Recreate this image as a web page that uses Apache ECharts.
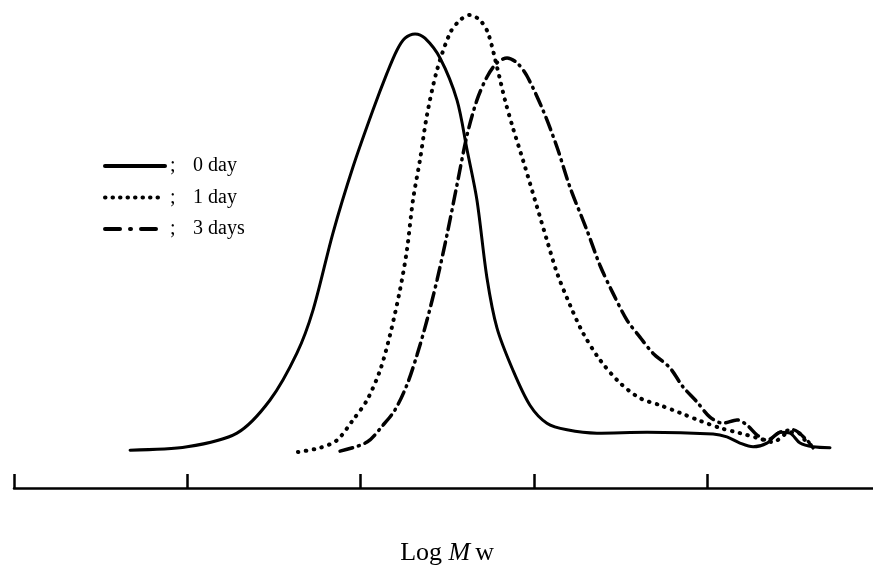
<!DOCTYPE html>
<html>
<head>
<meta charset="utf-8">
<script src="https://cdn.jsdelivr.net/npm/echarts@6/dist/echarts.min.js"></script>
<style>
  html, body { margin: 0; padding: 0; background: #fff; }
  #chart { width: 873px; height: 571px; }
</style>
</head>
<body>
<div id="chart"></div>
<script>
// Log Mw positions (ticks unlabelled) and relative intensity
const day0X = [2.670, 2.999, 3.287, 3.478, 3.633, 3.726, 3.841, 3.957, 4.072, 4.153, 4.211, 4.257, 4.315, 4.372, 4.459, 4.557, 4.615, 4.672, 4.730, 4.788, 4.880, 4.978, 5.076, 5.192, 5.365, 5.654, 6.035, 6.115, 6.190, 6.266, 6.346, 6.421, 6.479, 6.537, 6.612, 6.710];
const day0Y = [8.0, 8.7, 11.6, 18.6, 28.5, 37.6, 53.9, 67.9, 79.9, 87.7, 92.6, 95.1, 96.0, 95.1, 90.9, 82.0, 71.5, 60.9, 44.4, 33.8, 24.9, 17.5, 13.7, 12.3, 11.6, 11.8, 11.4, 10.8, 9.5, 8.7, 9.5, 11.8, 11.6, 9.5, 8.7, 8.5];

const day1X = [3.639, 3.766, 3.864, 3.957, 4.038, 4.113, 4.170, 4.228, 4.268, 4.303, 4.343, 4.384, 4.442, 4.517, 4.574, 4.632, 4.690, 4.736, 4.788, 4.834, 4.880, 4.938, 5.019, 5.076, 5.134, 5.209, 5.284, 5.382, 5.498, 5.613, 5.729, 5.844, 5.960, 6.075, 6.190, 6.289, 6.381, 6.462, 6.520, 6.566, 6.612];
const day1Y = [7.6, 8.5, 10.1, 14.4, 18.6, 24.9, 32.3, 41.9, 50.3, 60.9, 69.3, 78.9, 88.4, 96.2, 98.9, 100, 98.9, 96.2, 89.0, 82.0, 76.1, 69.3, 59.4, 52.4, 45.5, 38.7, 32.8, 27.1, 22.2, 19.0, 17.5, 15.9, 14.2, 12.7, 11.6, 10.6, 9.7, 11.6, 11.8, 10.1, 8.7];

const day3X = [3.882, 4.038, 4.130, 4.199, 4.268, 4.326, 4.384, 4.442, 4.499, 4.557, 4.615, 4.672, 4.730, 4.788, 4.846, 4.903, 4.961, 5.053, 5.134, 5.209, 5.307, 5.382, 5.457, 5.538, 5.613, 5.688, 5.786, 5.861, 5.942, 6.017, 6.092, 6.173, 6.231, 6.289, 6.346, 6.421, 6.496, 6.577, 6.612];
const day3Y = [7.8, 9.7, 13.3, 16.5, 21.8, 28.1, 35.5, 44.0, 53.5, 64.1, 74.6, 82.0, 86.9, 89.9, 90.9, 89.9, 87.1, 79.9, 72.1, 63.6, 54.5, 47.1, 41.2, 35.5, 31.9, 28.5, 25.4, 21.4, 18.2, 15.0, 13.7, 14.4, 13.3, 11.2, 10.1, 11.8, 12.3, 10.1, 8.5];

const seriesNames = ["0 day", "1 day", "3 days"];
const dashTypes = ["solid", [0.5, 7.5], [13, 6, 1, 6]];
const legendDash = ["solid", [0.5, 7], [15, 10, 1, 10]];

const zip = (xs, ys) => xs.map((x, i) => [x, ys[i]]);
const font = "'Liberation Serif', 'Times New Roman', serif";

const chart = echarts.init(document.getElementById("chart"));

function lineSeries(i, xs, ys, width) {
  return {
    name: seriesNames[i],
    type: "line",
    data: zip(xs, ys),
    symbol: "none",
    smooth: 0.3,
    lineStyle: { color: "#000", width, type: dashTypes[i], cap: "round" }
  };
}

chart.setOption({
  backgroundColor: "#fff",
  animation: false,
  // the axis runs off the right edge, so no end tick shows
  grid: { left: 14, width: 866.25, top: 15, bottom: 83, outerBoundsMode: "none" },
  legend: {
    orient: "vertical",
    left: 98,
    top: 151,
    itemWidth: 60,
    itemHeight: 20,
    itemGap: 11.5,
    data: seriesNames.map((name, i) => ({
      name,
      itemStyle: { opacity: 0 },
      lineStyle: { color: "#000", width: 4, type: legendDash[i], cap: "round" }
    })),
    formatter: name => "{s|;}" + name,
    textStyle: {
      fontFamily: font,
      fontSize: 20,
      color: "#000",
      rich: { s: { width: 23, fontFamily: font, fontSize: 20, color: "#000" } }
    }
  },
  xAxis: {
    type: "value",
    min: 2,
    max: 7,
    interval: 1,
    name: "Log {i|M}w",
    nameLocation: "middle",
    nameGap: 52,
    nameTextStyle: {
      fontFamily: font,
      fontSize: 26,
      color: "#000",
      rich: { i: { fontStyle: "italic", fontFamily: font, fontSize: 26, color: "#000", padding: [0, 5, 0, 0] } }
    },
    axisLine: { show: true, lineStyle: { color: "#000", width: 2.5 } },
    axisTick: { show: true, inside: true, length: 14, lineStyle: { color: "#000", width: 2.5 } },
    axisLabel: { show: false },
    splitLine: { show: false }
  },
  yAxis: { type: "value", min: 0, max: 100, show: false },
  series: [
    lineSeries(0, day0X, day0Y, 3),
    lineSeries(1, day1X, day1Y, 4),
    lineSeries(2, day3X, day3Y, 3.5)
  ]
});
</script>
</body>
</html>
